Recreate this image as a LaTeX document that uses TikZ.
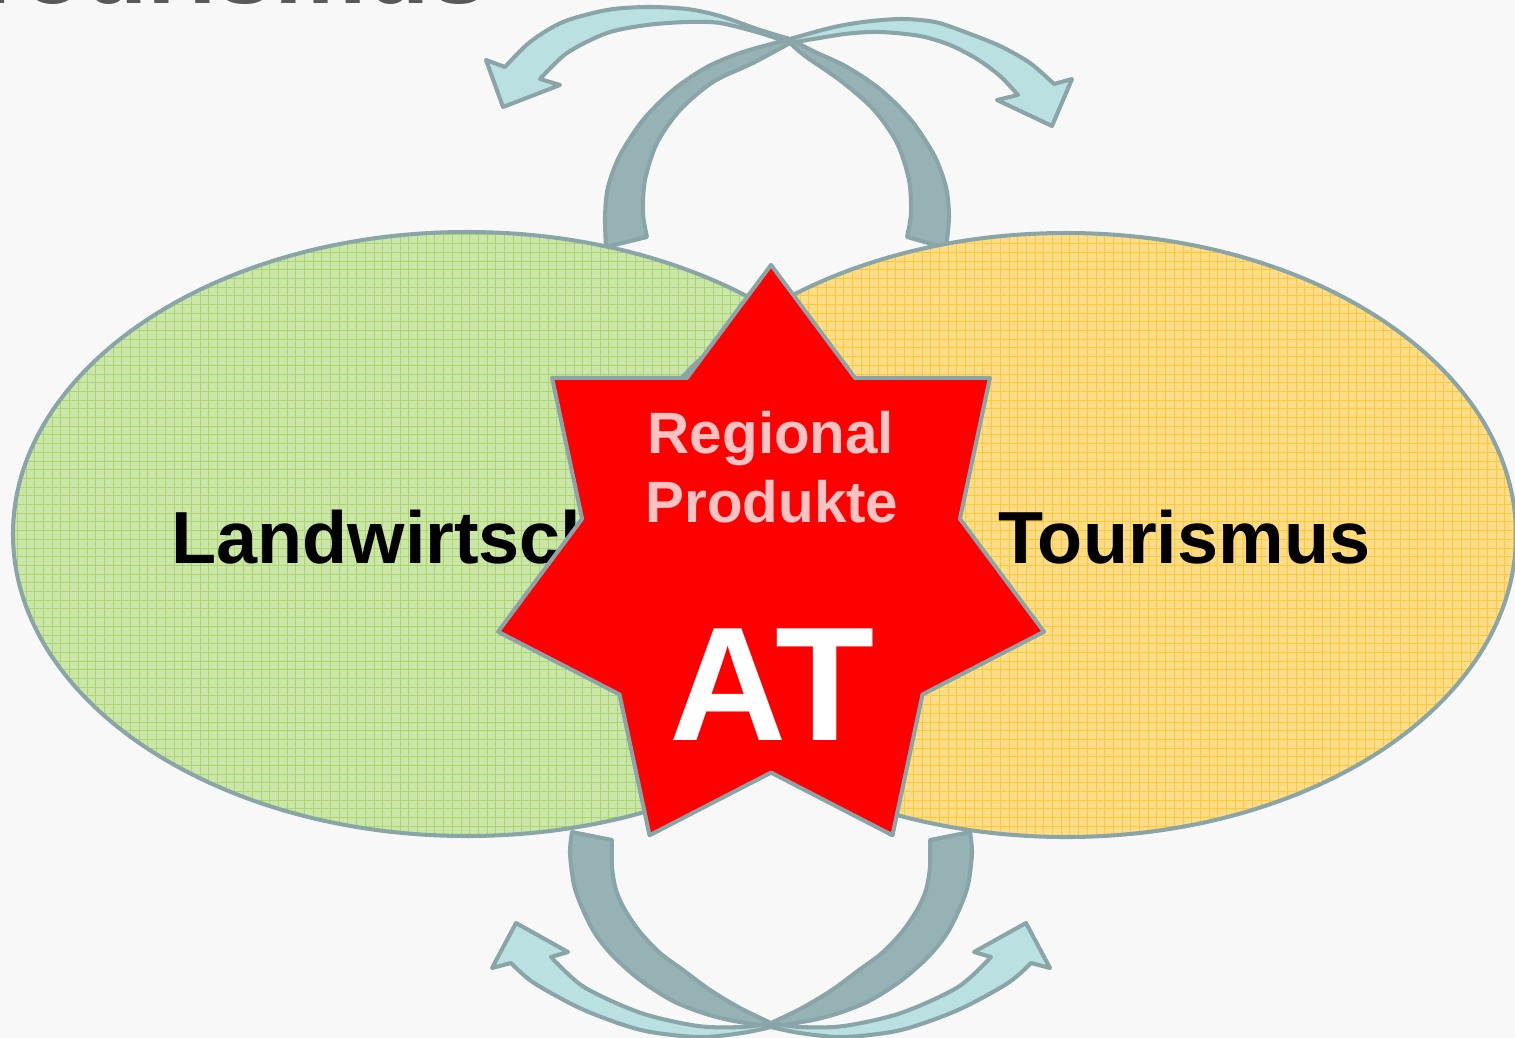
\documentclass[tikz,border=0pt]{standalone}
\usepackage{fontspec}
\setmainfont{Liberation Sans}
\usepackage{tikz}

\definecolor{bgpage}{HTML}{F8F8F8}
\definecolor{rimgray}{HTML}{8AA5A8}
\definecolor{bandback}{HTML}{96B2B4}
\definecolor{bandfront}{HTML}{BAE0E2}
\definecolor{agrgreen}{HTML}{CBE6A8}
\definecolor{agrgrid}{HTML}{A9D66E}
\definecolor{tourgold}{HTML}{FEDC8A}
\definecolor{tourgrid}{HTML}{FFC933}
\definecolor{titlegray}{HTML}{595959}
\definecolor{starred}{HTML}{FF0000}
\definecolor{pinkwhite}{HTML}{F9C3C3}

\begin{document}
\begin{tikzpicture}[x=0.02cm, y=-0.02cm,
   rim/.style={draw=rimgray, line width=2.3pt, line join=round},
   backband/.style={rim, fill=bandback},
   frontband/.style={rim, fill=bandfront},
   fieldlabel/.style={font=\bfseries\fontsize{42}{50}\selectfont, text=black, inner sep=0pt, anchor=base west},
   startext/.style={font=\bfseries\fontsize{33.2}{40}\selectfont, text=pinkwhite, inner sep=0pt, anchor=base}]

   % Seite
   \useasboundingbox (0,0) rectangle (1515,1038);
   \fill[bgpage] (0,0) rectangle (1515,1038);
   \node[font=\bfseries\fontsize{59}{70}\selectfont, text=titlegray, anchor=base east, inner sep=0pt] (titel) at (488,3) {Tourismus};

   % Pfeile oben
   \draw[backband] plot[smooth] coordinates {(606,247) (605,217) (608,187) (620,155) (643,120) (673,90) (707,67) (743,52) (790,39)}
      -- plot[smooth] coordinates {(790,43) (753,63) (713,82) (680,110) (657,143) (645,180) (643,213) (647,237)} -- cycle;
   \draw[backband] plot[smooth] coordinates {(946,248) (949,217) (946,187) (934,155) (911,120) (881,90) (847,67) (813,51) (790,39)}
      -- plot[smooth] coordinates {(790,43) (805,56) (841,81) (874,110) (897,143) (909,180) (911,213) (907,237)} -- cycle;
   \draw[frontband] plot[smooth] coordinates {(790,39) (830,28) (863,22) (901,19) (935,22) (965,32) (1000,46) (1030,63) (1054,84)}
      -- (1072,79) -- (1052,126) -- (997,100) -- (1018,95)
      -- plot[smooth] coordinates {(1018,95) (1000,76) (977,59) (950,45) (920,36) (880,32) (845,34) (790,43)} -- cycle;
   \draw[frontband] plot[smooth] coordinates {(790,39) (760,30) (720,16) (687,9) (647,7) (607,10) (563,22) (530,42) (505,67)}
      -- (486,60) -- (503,107) -- (560,85) -- (540,79)
      -- plot[smooth] coordinates {(540,79) (567,53) (607,33) (647,25) (687,22) (720,23) (760,33) (790,43)} -- cycle;

   % Pfeile unten
   \draw[backband] plot[smooth] coordinates {(572,832) (570,853) (574,885) (583,910) (596,935) (614,957) (640,980) (671,1000) (700,1012) (729,1020) (771,1027)}
      -- plot[smooth] coordinates {(771,1023) (740,1008) (710,990) (683,970) (660,953) (640,932) (625,910) (616,890) (612,867) (612,840)} -- cycle;
   \draw[backband] plot[smooth] coordinates {(970,832) (972,853) (968,885) (959,910) (946,935) (928,957) (902,980) (871,1000) (842,1012) (813,1020) (771,1027)}
      -- plot[smooth] coordinates {(771,1023) (802,1008) (832,990) (859,970) (882,953) (902,932) (917,910) (926,890) (930,867) (930,840)} -- cycle;
   \draw[frontband] plot[smooth] coordinates {(771,1027) (800,1033) (844,1037) (901,1030) (958,1010) (1008,983) (1031,963)}
      -- (1050,968) -- (1026,923) -- (974,952) -- (991,957)
      -- plot[smooth] coordinates {(991,957) (958,987) (901,1013) (844,1026) (800,1027) (771,1023)} -- cycle;
   \draw[frontband] plot[smooth] coordinates {(771,1027) (742,1033) (698,1037) (641,1030) (584,1010) (534,983) (511,963)}
      -- (492,968) -- (516,923) -- (568,952) -- (551,957)
      -- plot[smooth] coordinates {(551,957) (584,987) (641,1013) (698,1026) (742,1027) (771,1023)} -- cycle;

   % Ellipsen
   \begin{scope}
      \clip (467,534) ellipse [x radius=454, y radius=302];
      \fill[agrgreen] (0,0) rectangle (1515,1038);
      \draw[agrgrid, line width=0.5pt, step=0.174cm] (0,0) grid (1515,1038);
   \end{scope}
   \draw[rim] (467,534) ellipse [x radius=454, y radius=302];
   \begin{scope}
      \clip (1066,535) ellipse [x radius=450, y radius=302];
      \fill[tourgold] (0,0) rectangle (1515,1038);
      \draw[tourgrid, line width=0.5pt, step=0.174cm] (0,0) grid (1515,1038);
   \end{scope}
   \draw[rim] (1066,535) ellipse [x radius=450, y radius=302];

   \node[fieldlabel] (landwirtschaft) at (171,563) {Landwirtschaft};
   \node[fieldlabel] (tourismus) at (998,563) {Tourismus};

   % Stern
   \draw[rim, fill=starred] (771,265) \foreach \k in {1,...,7} {
      -- ({771+193.8*cos(90+(\k-0.5)*360/7)}, {565-207.6*sin(90+(\k-0.5)*360/7)})
      -- ({771+280*cos(90+\k*360/7)}, {565-300*sin(90+\k*360/7)}) } -- cycle;

   \node[startext] (regional) at (771,453) {Regional};
   \node[startext] (produkte) at (772,522) {Produkte};
   \node[font=\bfseries\fontsize{92.4}{100}\selectfont, text=white, anchor=base, inner sep=0pt] (at) at (772,740) {AT};
\end{tikzpicture}
\end{document}
